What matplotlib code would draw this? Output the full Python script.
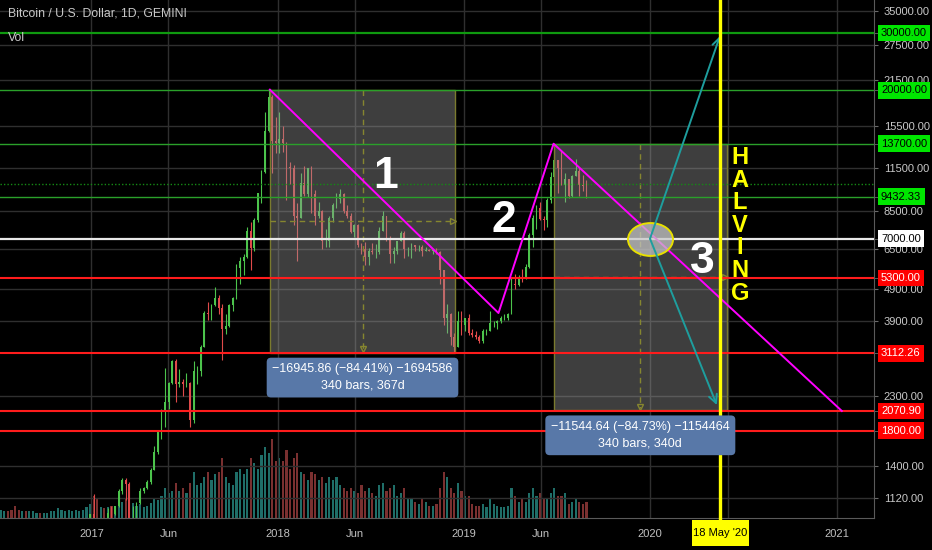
import numpy as np
import pandas as pd
import matplotlib
matplotlib.use('Agg')
import matplotlib.pyplot as plt
import matplotlib.dates as mdates
from matplotlib.patches import Rectangle
from matplotlib.path import Path
from matplotlib.transforms import Affine2D
from matplotlib.ticker import FixedLocator, NullFormatter

plt.rcParams['font.family'] = ['Liberation Sans', 'DejaVu Sans']

# weekly candles BTC/USD (Gemini), weeks from 2016-07-04
close = [665, 665, 655, 625, 590, 570, 580, 575, 608, 610, 610, 605, 612, 618, 640, 655, 700, 705, 705, 730, 735, 765, 770, 790, 920, 998,
         905, 820, 920, 915, 1010, 1000, 1055, 1180, 1270, 1235, 970, 970, 1080, 1180, 1200, 1250, 1360, 1550, 1780, 2050, 2200, 2520,
         2950, 2500, 2550, 2500, 2520, 1950, 2750, 2750, 3250, 4150, 4100, 4380, 4600, 4300, 3700, 3790, 4380, 4600, 5700, 6000, 6150,
         7400, 6550, 8000, 9700, 11200, 15000, 19100, 14000, 13800,
         14200, 13800, 11600, 11500, 8200, 8100, 10400, 9600, 11500, 9600, 8200, 8500, 6900, 6900, 8100, 8900, 9300, 9600, 8500, 8200,
         7350, 7700, 6700, 6500, 6150, 6400, 6350, 6350, 7400, 8200, 7000, 6300, 6400, 6900, 7300, 6500, 6500, 6700, 6600, 6600, 6400,
         6450, 6400, 6450, 6350, 5600, 4000, 4100, 3500, 3250, 3900, 3800, 4000,
         3600, 3550, 3500, 3400, 3650, 3650, 3850, 3850, 3900, 4000, 4000, 4100, 5100, 5050, 5350, 5300, 5750, 7200, 8100, 8700, 8050,
         8000, 9200, 10800, 12200, 11500, 10200, 10700, 9500, 10900, 11300, 10200, 10150, 9432.33]
high = [680, 680, 675, 660, 630, 600, 590, 590, 610, 630, 615, 610, 615, 620, 645, 660, 720, 740, 720, 750, 745, 775, 780, 800, 940, 1000,
        1150, 910, 930, 925, 1040, 1060, 1060, 1190, 1290, 1290, 1250, 1060, 1090, 1200, 1210, 1270, 1380, 1620, 1800, 2100, 2800, 2550,
        2980, 2990, 2780, 2600, 2700, 2540, 2950, 2850, 3300, 4200, 4480, 4400, 4980, 4700, 4400, 4100, 4400, 4650, 5850, 6150, 6300,
        7600, 7900, 8100, 9700, 11400, 17200, 20000, 19300, 16500,
        17100, 15500, 13900, 12000, 11800, 9000, 11100, 11700, 11500, 11700, 9900, 9100, 8600, 7500, 8200, 9000, 9700, 9950, 9700, 8900,
        8400, 7750, 7750, 6800, 6850, 6550, 6800, 6750, 7600, 8500, 8200, 7150, 6600, 6800, 7400, 7400, 6600, 6800, 6700, 6700, 6700,
        6600, 6500, 6500, 6550, 6400, 5600, 4400, 4150, 3600, 4200, 4200, 4000,
        4100, 3700, 3650, 3550, 3700, 3700, 4200, 3900, 3950, 4050, 4100, 4150, 5300, 5450, 5400, 5650, 5850, 7300, 8300, 8900, 9050,
        8200, 9350, 11200, 13700, 12200, 13100, 11100, 10700, 11000, 12300, 11500, 10950, 10600]
low = [630, 645, 650, 600, 480, 560, 565, 570, 570, 600, 600, 590, 600, 605, 615, 630, 650, 680, 690, 700, 720, 730, 755, 760, 790, 890,
       880, 750, 810, 880, 910, 940, 990, 1050, 1150, 1100, 950, 900, 930, 1070, 1160, 1190, 1240, 1360, 1530, 1700, 1850, 2100,
       2500, 2200, 2450, 2300, 2450, 1850, 1900, 2500, 2650, 3250, 3950, 3950, 4350, 4100, 2980, 3580, 3750, 4200, 4580, 5100, 5400,
       6100, 5600, 6400, 7900, 9000, 11100, 14900, 11100, 12800,
       12800, 12900, 9200, 10300, 7700, 6000, 8100, 9500, 9400, 8400, 7700, 8100, 6500, 6600, 6600, 7900, 8700, 9000, 8400, 8100,
       7300, 7100, 6600, 6300, 5800, 5800, 6300, 6100, 6300, 7400, 6900, 5900, 5900, 6300, 6900, 6100, 6200, 6100, 6400, 6400, 6200,
       6400, 6400, 6300, 6300, 5100, 3800, 3600, 3300, 3130, 3250, 3550, 3650,
       3550, 3500, 3450, 3350, 3350, 3550, 3650, 3750, 3700, 3850, 3950, 3950, 4100, 4900, 5000, 5150, 5250, 5700, 6600, 7500, 8000,
       7450, 7600, 9000, 10300, 9700, 10200, 9100, 9350, 9400, 10900, 9500, 9800, 9350]
vol = [6, 5, 5, 6, 9, 6, 5, 5, 5, 5, 4, 4, 4, 4, 5, 5, 7, 6, 5, 6, 5, 6, 5, 6, 8, 10,
       16, 14, 8, 7, 8, 9, 7, 9, 12, 14, 13, 11, 9, 10, 8, 9, 11, 14, 13, 16, 22, 18, 20, 26, 20, 22, 18, 26, 34, 24, 26, 30, 34, 28,
       32, 34, 44, 30, 26, 24, 34, 36, 32, 36, 44, 40, 36, 46, 52, 48, 58, 42,
       44, 42, 50, 36, 44, 48, 34, 32, 28, 34, 32, 28, 30, 26, 30, 28, 30, 24, 22, 20, 22, 20, 18, 24, 20, 22, 18, 16, 24, 26, 20, 22,
       24, 16, 18, 22, 14, 14, 12, 10, 14, 12, 9, 9, 10, 22, 34, 30, 22, 18, 26, 20, 16,
       16, 10, 9, 9, 10, 8, 14, 10, 9, 8, 8, 9, 22, 16, 12, 14, 12, 18, 22, 16, 18, 14, 14, 18, 22, 16, 16, 18, 10, 12, 14, 12, 10, 12]

tick_vals = [35000, 27500, 21500, 15500, 11500, 8500, 6500, 4900, 3900, 2300, 1400, 1120]
green_levels = [30000, 20000, 13700, 9432.33]
red_levels = [5300, 3112.26, 2070.90, 1800]
white_level = 7000
dotted_level = 10300

# date/price range boxes: start, end, top, bottom
ranges = [('2017-12-17', '2018-12-15', 20076, 3130),
          ('2019-06-26', '2020-05-31', 13625, 2081)]
range_text = ['\u221216945.86 (\u221284.41%) \u22121694586\n340 bars, 367d',
              '\u221211544.64 (\u221284.73%) \u22121154464\n340 bars, 340d']

trend_dates = ['2017-12-17', '2019-03-10', '2019-06-26', '2021-01-11']
trend_prices = [20076, 4140, 13700, 2070.90]

halving = '2020-05-18'
pivot = ('2020-01-01', 7000)
target_up = ('2020-05-17', 29300)
target_down = ('2020-05-11', 2160)

wave_labels = [('1', '2018-07-31', 10018), ('2', '2019-03-21', 7341), ('3', '2020-04-13', 5495)]


def dn(s):
    return mdates.date2num(pd.Timestamp(s))


weeks = pd.date_range('2016-07-04', periods=len(close), freq='7D')
xc = mdates.date2num(weeks) + 3.5
opn = [650] + close[:-1]
up = np.array(close) >= np.array(opn)

fig = plt.figure(figsize=(9.32, 5.5), dpi=100, facecolor='black')
rect = [0, 32 / 550, 874 / 932, 518 / 550]
axv = fig.add_axes(rect)
ax = fig.add_axes(rect)
xlim = (dn('2016-07-06'), dn('2021-03-15'))

# volume underneath
axv.set_facecolor('black')
axv.bar(xc, vol, width=4.2, color=np.where(up, '#1f6e68', '#7a3030'), linewidth=0)
axv.set_xlim(*xlim)
axv.set_ylim(0, 380)
axv.set_xticks([])
axv.set_yticks([])
for s in axv.spines.values():
    s.set_visible(False)

ax.patch.set_visible(False)
ax.set_yscale('log')

# candles
col = np.where(up, '#4cc44c', '#e04a4a')
ax.vlines(xc, low, high, colors=col, lw=0.8, zorder=2)
b_lo = np.minimum(opn, close)
b_hi = np.maximum(opn, close)
ax.bar(xc, b_hi - b_lo, bottom=b_lo, width=3.8, color=col, linewidth=0, zorder=2)

# boxes
for (d0, d1, hi, lo), txt in zip(ranges, range_text):
    x0, x1 = dn(d0), dn(d1)
    ax.add_patch(Rectangle((x0, lo), x1 - x0, hi - lo, fc='#969696', alpha=0.42, ec='none', zorder=3))
    ax.add_patch(Rectangle((x0, lo), x1 - x0, hi - lo, fc='none', ec='#7a7a2e', lw=1, zorder=3.1))
    xm = (x0 + x1) / 2
    ym = np.sqrt(hi * lo)
    ax.plot([xm, xm], [hi, lo * 1.02], ls=(0, (4, 3)), color='#86862f', lw=1, zorder=3.2)
    ax.plot([x0, x1 - 4], [ym, ym], ls=(0, (4, 3)), color='#86862f', lw=1, zorder=3.2)
    ax.plot([xm], [lo * 1.025], marker='v', ms=4, mfc='none', mec='#86862f', zorder=3.2)
    ax.plot([x1 - 4], [ym], marker='>', ms=4, mfc='none', mec='#86862f', zorder=3.2)
    ax.annotate(txt, xy=(xm, lo), xytext=(0, -18), textcoords='offset points', ha='center', va='center',
                color='white', fontsize=9, linespacing=1.5, zorder=9,
                bbox=dict(boxstyle='round,pad=0.45,rounding_size=0.35', fc='#5878a8', ec='none'))

# horizontal levels
ax.axhline(dotted_level, color='#158a15', lw=1, ls=(0, (1, 1.5)), zorder=4)
for i, v in enumerate(green_levels):
    ax.axhline(v, color='#0f9a0f' if i == 0 else '#2aa02a', lw=1.6 if i == 0 else 1, zorder=4)
for v in red_levels:
    ax.axhline(v, color='#ff1c1c', lw=1.5, zorder=4)
ax.axhline(white_level, color='#e8e8e8', lw=1.6, zorder=4)

# trend lines
ax.plot([dn(d) for d in trend_dates], trend_prices, color='#ff00ff', lw=1.4, zorder=5)

# ellipse + projection arrows
ell = Path.unit_circle().transformed(Affine2D().scale(1, 0.73))
ax.plot([dn(pivot[0])], [pivot[1]], marker=ell, ms=32.4, mfc=(0.78, 0.78, 0.78, 0.72),
        mec='#e8e000', mew=1.4, ls='none', zorder=6)
for tgt in (target_up, target_down):
    ax.annotate('', xy=(dn(tgt[0]), tgt[1]), xytext=(dn(pivot[0]), pivot[1]),
                arrowprops=dict(arrowstyle='->,head_length=0.6,head_width=0.3', color='#1e9e9e',
                                lw=1.4, shrinkA=0, shrinkB=0), zorder=7)

# halving line + date tag
xtr = ax.get_xaxis_transform()
h = dn(halving)
ax.plot([h, h], [1, -0.01], color='#ffff00', lw=2.4, transform=xtr, clip_on=False, zorder=8)
ax.add_patch(Rectangle((h - 56, -0.054), 112, 0.050, transform=xtr, fc='#ffff00', ec='none',
                       clip_on=False, zorder=9))
ax.text(h, -0.029, "18 May '20", transform=xtr, ha='center', va='center', fontsize=8,
        color='black', clip_on=False, zorder=10)
for i, ch in enumerate('HALVING'):
    ax.text(dn('2020-06-25'), 1 - (157.5 + i * 22.6) / 518, ch, transform=xtr, ha='center', va='center',
            color='#ffff00', fontsize=17, fontweight='bold', zorder=8)

for t, d, p in wave_labels:
    ax.text(dn(d), p, t, ha='center', va='baseline', color='white', fontsize=32, fontweight='bold', zorder=8)

# axes styling
ax.set_xlim(*xlim)
ax.set_ylim(972, 37840)
ax.set_yticks(tick_vals)
ax.set_yticklabels([f'{v:.2f}' for v in tick_vals])
ax.yaxis.set_minor_locator(FixedLocator(green_levels + red_levels + [white_level]))
ax.yaxis.set_minor_formatter(NullFormatter())
ax.yaxis.tick_right()
ax.tick_params(axis='y', which='both', direction='out', length=3, color='#6a6a6a',
               labelcolor='#c8c8c8', labelsize=8, pad=4)

xt = ['2017-01-01', '2017-06-01', '2018-01-01', '2018-06-01', '2019-01-01', '2019-06-01',
      '2020-01-01', '2020-06-01', '2021-01-01']
xl = ['2017', 'Jun', '2018', 'Jun', '2019', 'Jun', '2020', '', '2021']
ax.set_xticks([dn(d) for d in xt])
ax.set_xticklabels(xl)
ax.tick_params(axis='x', length=0, pad=8, labelcolor='#c0c0c0', labelsize=8)
ax.grid(True, which='major', color='#2f2f2f', lw=1)
ax.set_axisbelow(True)
for side in ('top', 'left'):
    ax.spines[side].set_visible(False)
for side in ('right', 'bottom'):
    ax.spines[side].set_color('#5a5a5a')

# price labels on the scale
ytr = ax.get_yaxis_transform()
scale_labels = [(v, '#00e600', 'black') for v in green_levels] + \
               [(white_level, 'white', 'black')] + [(v, '#ff0000', 'white') for v in red_levels]
for v, fc, tc in scale_labels:
    ax.text(1 + 7 / 874, v, f'{v:.2f}', transform=ytr, ha='left', va='center', fontsize=8, color=tc,
            clip_on=False, zorder=10, bbox=dict(boxstyle='square,pad=0.3', fc=fc, ec='none'))

ax.text(8 / 874, 1 - 14 / 518, 'Bitcoin / U.S. Dollar, 1D, GEMINI', transform=ax.transAxes,
        ha='left', va='center', fontsize=8.8, color='#c8c8c8', zorder=10)
ax.text(8 / 874, 1 - 38 / 518, 'Vol', transform=ax.transAxes, ha='left', va='center',
        fontsize=8.8, color='#c8c8c8', zorder=10)

fig.savefig('out.png', dpi=100, facecolor='black')
